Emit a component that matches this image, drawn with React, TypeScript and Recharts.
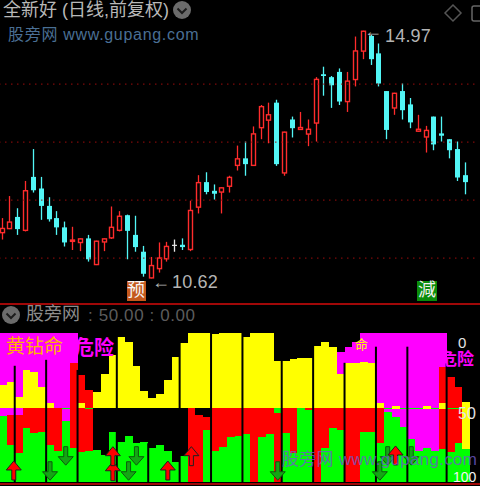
import { Bar, ComposedChart, Line, ReferenceLine, XAxis, YAxis } from "recharts";

// price panel, one entry per trading day
const highs = [11.69, 12.07, 11.86, 12.33, 12.88, 12.40, 12.05, 11.81, 11.63, 11.54, 11.34, 11.40, 11.30, 11.34, 11.89, 11.81, 11.75, 11.73, 11.21, 11.02, 11.27, 11.28, 11.32, 11.34, 11.99, 12.43, 12.48, 12.27, 12.22, 12.42, 12.94, 13.01, 13.27, 13.64, 13.68, 13.73, 13.18, 13.44, 13.52, 13.39, 14.12, 14.30, 14.14, 14.27, 14.21, 14.82, 14.92, 14.85, 14.70, 13.88, 13.85, 14.01, 13.76, 13.47, 13.28, 13.44, 13.44, 13.05, 13.01, 12.65];
const lows = [11.32, 11.50, 11.40, 11.46, 12.13, 11.66, 11.63, 11.40, 11.20, 11.14, 11.12, 10.94, 10.88, 11.12, 11.33, 11.46, 10.98, 11.11, 10.68, 10.65, 10.75, 10.94, 11.11, 11.14, 11.12, 11.77, 12.10, 12.01, 11.77, 12.13, 12.51, 12.42, 12.59, 13.05, 12.98, 12.59, 12.42, 13.08, 13.21, 12.93, 13.01, 13.80, 13.59, 13.64, 13.52, 13.96, 14.43, 14.33, 13.96, 13.05, 13.47, 13.39, 13.24, 13.18, 12.82, 12.86, 13.01, 12.72, 12.33, 12.10];
const bodyTops = [11.52, 11.63, 11.71, 12.17, 12.40, 12.20, 11.90, 11.69, 11.53, 11.32, 11.34, 11.34, 11.30, 11.34, 11.54, 11.73, 11.74, 11.40, 11.11, 10.88, 11.01, 11.21, 11.23, 11.23, 11.83, 12.31, 12.31, 12.16, 12.22, 12.40, 12.72, 12.72, 13.15, 13.62, 13.48, 13.68, 13.18, 13.39, 13.26, 13.23, 14.09, 14.17, 14.12, 14.21, 14.06, 14.58, 14.92, 14.83, 14.53, 13.88, 13.85, 13.88, 13.65, 13.23, 13.21, 13.44, 13.15, 13.05, 12.88, 12.43];
const bodyBottoms = [11.43, 11.50, 11.50, 11.47, 12.17, 11.90, 11.67, 11.53, 11.27, 11.28, 11.26, 10.98, 10.88, 11.27, 11.34, 11.47, 11.47, 11.19, 10.73, 10.65, 10.81, 10.98, 11.21, 11.19, 11.14, 11.87, 12.14, 12.11, 12.13, 12.23, 12.59, 12.62, 12.59, 13.24, 13.37, 12.62, 12.46, 13.24, 13.21, 13.13, 13.32, 14.14, 13.98, 13.70, 13.69, 14.07, 14.56, 14.43, 14.01, 13.21, 13.58, 13.55, 13.34, 13.18, 13.08, 12.96, 13.11, 12.86, 12.39, 12.31];
// r = up day, c = down day, w = flat day
const kinds = "rrcrcccccr" + "rcrrrrcccr" + "rrwcrrccrr" + "rcrrrcrcrr" + "rcccrrrccc" + "rccrrccccc";
const gridPrices = [14, 13, 12, 11];

// lower panel, 0 on top and 100 at the bottom, where each colour band ends
const gapTopEnd = [0, 0, 0, 0, 0, 0, 0, 0, 0, 0, 28.2, 38.3, 39.4, 27.7, 14.8, 2.5, 5.8, 21.9, 38.9, 43.4, 40.9, 31.5, 15.9, 6.5, 0, 0, 0, 0.4, 0, 0, 0, 2.9, 0, 0, 0, 18.8, 18.8, 17.7, 17, 17, 8.7, 5.8, 9.2, 12.5, 9.2, 5.8, 0, 0, 0, 0, 0, 0, 0, 0, 0, 0, 0, 29.8, 36.5, 46.1];
const magentaTopEnd = [34.9, 32.7, 43.2, 24.8, 26, 36, 46.8, 50, 50, 19.9, 28.2, 38.3, 39.4, 27.7, 14.8, 2.5, 5.8, 21.9, 38.9, 43.4, 40.9, 31.5, 15.9, 6.5, 0, 0, 0, 0.4, 0, 0, 0, 2.9, 0, 0, 0, 18.8, 18.8, 17.7, 17, 17, 8.7, 5.8, 9.2, 27.7, 20.4, 20.4, 19.2, 20.4, 47.2, 50, 49, 50, 50, 50, 49, 50, 22.6, 29.8, 36.5, 46.1];
const redTopEnd = [34.9, 32.7, 43.2, 24.8, 26, 36, 46.8, 50, 50, 50, 46.8, 50, 39.4, 27.7, 14.8, 2.5, 5.8, 21.9, 38.9, 43.4, 40.9, 31.5, 15.9, 6.5, 0, 0, 0, 0.4, 0, 0, 0, 2.9, 0, 0, 0, 18.8, 18.8, 17.7, 17, 17, 8.7, 5.8, 9.2, 27.7, 20.4, 20.4, 19.2, 20.4, 47.2, 50, 49, 50, 50, 50, 49, 50, 46.8, 50, 50, 46.1];
const yellowEnd = [50, 50, 50, 50, 50, 50, 50, 50, 50, 50, 50, 50, 50, 50, 50, 50, 50, 50, 50, 50, 50, 50, 50, 50, 50, 50, 50, 50, 50, 50, 50, 50, 50, 50, 50, 50, 50, 50, 50, 50, 50, 50, 50, 50, 50, 50, 50, 50, 50, 50, 50.8, 50, 50, 50, 50.8, 50, 50.8, 50, 50, 78.1];
const greenMidEnd = [50, 50, 50, 50, 50, 50, 50, 50, 50.8, 50, 50, 50.8, 50, 50, 50, 50, 50, 50, 50, 50, 50, 50, 50, 50, 50, 50, 50, 50, 50, 50, 50, 50, 50, 50, 50, 53.9, 50, 50, 50, 50, 50, 50, 50, 50, 50, 50, 50, 50, 50, 50.8, 50.8, 50.8, 50.8, 50.8, 50.8, 50.8, 50.8, 50.8, 50.8, 78.1];
const gapLowEnd = [50, 50, 50, 50, 50, 50, 50, 50, 50.8, 50, 50, 50.8, 78.5, 81.9, 66.2, 72.9, 69.1, 74, 73.4, 77, 75.2, 79.2, 86.4, 82.3, 50, 55, 56.2, 50, 50, 50, 50, 50, 50, 50, 50, 53.9, 50, 50, 50, 50, 50, 50, 50, 50, 50, 50, 50, 50, 50, 50.8, 50.8, 50.8, 50.8, 50.8, 50.8, 50.8, 50.8, 50.8, 50.8, 78.1];
const magentaLowEnd = [55.7, 55, 55, 50, 50, 50, 50, 50, 58.8, 50, 50, 50.8, 78.5, 81.9, 66.2, 72.9, 69.1, 74, 73.4, 77, 75.2, 79.2, 86.4, 82.3, 50, 55, 56.2, 50, 50, 50, 50, 50, 50, 50, 50, 53.9, 50, 50, 50, 50, 50, 50, 50, 50, 50, 50, 50, 50, 50, 52.8, 56.2, 62.9, 71.4, 79, 77.4, 79, 50.8, 50.8, 50.8, 78.1];
const redLowEnd = [55.7, 75.2, 80.8, 64, 67.3, 66.2, 75.2, 79.2, 58.8, 77.4, 79.6, 79.2, 78.5, 81.9, 66.2, 72.9, 69.1, 74, 73.4, 77, 75.2, 79.2, 86.4, 82.3, 100, 100, 65.1, 79.2, 76.3, 70, 69.1, 68, 100, 70, 68, 100, 67.3, 80.3, 50, 51.7, 100, 77, 64, 65.1, 100, 100, 66.2, 66.2, 74, 52.8, 56.2, 62.9, 71.4, 79, 77.4, 79, 78.1, 79.6, 74, 78.1];

const dividerCols = [2, 6, 10, 15, 19, 23, 27, 31, 36, 40, 44, 48, 52, 57];
const dividerTops = [22, 18, 24.8, 2.5, 74, 6.5, 0, 0, 18.8, 8.7, 20, 9.2, 9.2, 20.4];
const upArrowCols = [1, 14, 21, 24, 50];
const upArrowTops = [85.9, 86.4, 85.9, 76.3, 75.8];
const secondUpCols = [14];
const secondUpTops = [76.3];
const downArrowCols = [6, 8, 16, 17, 35, 48, 49, 52];
const downArrowTops = [86.4, 76.3, 86.4, 76.3, 86.4, 86.4, 76.3, 76.3];

const BANDS = 61; // one empty slot after the last day
const BAND_WIDTH = 479 / BANDS;
const RED = "#ff2c2c";
const CYAN = "#52f6f6";

const priceRows = Array.from({ length: BANDS }, (_, i) =>
  i < highs.length
    ? { i, range: [lows[i], highs[i]], top: bodyTops[i], bottom: bodyBottoms[i], kind: kinds[i] }
    : { i, range: null }
);

const pick = (cols: number[], vals: number[], i: number) => {
  const at = cols.indexOf(i);
  return at < 0 ? null : vals[at];
};

const lowerRows = Array.from({ length: BANDS }, (_, i) => {
  if (i >= gapTopEnd.length) {
    return { i, gapTop: 0, magentaTop: 0, redTop: 0, yellow: 0, greenMid: 0, gapLow: 0, magentaLow: 0, redLow: 0, green: 0, divider: null, up: null, up2: null, down: null };
  }
  return {
    i,
    gapTop: gapTopEnd[i],
    magentaTop: magentaTopEnd[i] - gapTopEnd[i],
    redTop: redTopEnd[i] - magentaTopEnd[i],
    yellow: yellowEnd[i] - redTopEnd[i],
    greenMid: greenMidEnd[i] - yellowEnd[i],
    gapLow: gapLowEnd[i] - greenMidEnd[i],
    magentaLow: magentaLowEnd[i] - gapLowEnd[i],
    redLow: redLowEnd[i] - magentaLowEnd[i],
    green: 100 - redLowEnd[i],
    divider: pick(dividerCols, dividerTops, i),
    up: pick(upArrowCols, upArrowTops, i),
    up2: pick(secondUpCols, secondUpTops, i),
    down: pick(downArrowCols, downArrowTops, i),
  };
});

function Candle(props: any) {
  const { x, y, width, height, payload } = props;
  if (!payload.range || !height) return <g />;
  const [low, high] = payload.range;
  const perPrice = height / (high - low);
  const cx = Math.round(x + width / 2) - 0.5;
  const top = y + (high - payload.top) * perPrice;
  const bottom = y + (high - payload.bottom) * perPrice;
  const color = payload.kind === "r" ? RED : payload.kind === "c" ? CYAN : "#e8e8e8";
  return (
    <g>
      <line x1={cx} x2={cx} y1={y} y2={y + height} stroke={color} strokeWidth={1.3} />
      {payload.kind === "r" ? (
        <rect x={cx - 2} y={top + 0.5} width={4} height={Math.max(bottom - top - 1, 1)} fill="#000" stroke={color} strokeWidth={1.4} />
      ) : (
        <rect x={cx - 2.5} y={top} width={5} height={Math.max(bottom - top, 1)} fill={color} />
      )}
    </g>
  );
}

// the lower axis is reversed, so the stacked rectangles come with a negative height;
// columns touch each other, whatever width the bar layout hands out
function Block(props: any) {
  const { x, y, width, height, tint } = props;
  if (!height) return <g />;
  const top = Math.min(y, y + height);
  const left = x + width / 2 - BAND_WIDTH / 2;
  return <rect x={left} y={top} width={BAND_WIDTH} height={Math.abs(height)} fill={tint} shapeRendering="crispEdges" />;
}

const PANEL_BOTTOM = 482;
const PANEL_TOP = 303;

function Divider(props: any) {
  const { cx, cy, key } = props;
  if (cy == null) return <g key={key} />;
  return <rect key={key} x={cx - 4.9} y={cy} width={2} height={PANEL_BOTTOM - PANEL_TOP - cy} fill="#000" />;
}

function UpArrow(props: any) {
  const { cx, cy, key, payload } = props;
  if (cy == null) return <g key={key} />;
  const mid = payload.i === 1 ? cx + 3 : cx;
  return (
    <path
      key={key}
      d={`M${mid} ${cy}l7.5 9h-5.5v10h-4v-10h-5.5z`}
      fill="#ff0000"
      stroke="#202020"
      strokeWidth={1}
    />
  );
}

function DownArrow(props: any) {
  const { cx, cy, key } = props;
  if (cy == null) return <g key={key} />;
  return (
    <path
      key={key}
      d={`M${cx - 2} ${cy}h4v10h5.5l-7.5 8.5l-7.5-8.5h5.5z`}
      fill="#14a614"
      stroke="#0c5a0c"
      strokeWidth={1}
    />
  );
}

function Label({ x, y, size, color, children, spacing, weight }: any) {
  return (
    <span
      style={{
        position: "absolute",
        left: x,
        top: y,
        fontSize: size,
        lineHeight: `${size + 2}px`,
        color,
        letterSpacing: spacing,
        fontWeight: weight,
        whiteSpace: "nowrap",
        fontFamily: "'Liberation Sans', 'Noto Sans CJK SC', sans-serif",
      }}
    >
      {children}
    </span>
  );
}

function Chevron({ cx, cy }: { cx: number; cy: number }) {
  return (
    <svg style={{ position: "absolute", left: cx - 10, top: cy - 10 }} width={20} height={20}>
      <circle cx={10} cy={10} r={9} fill="#6b6b6b" />
      <path d="M5.5 8.5l4.5 4.5l4.5-4.5" fill="none" stroke="#1c1c1c" strokeWidth={2} />
    </svg>
  );
}

const layers = [
  ["gapTop", "#000"],
  ["magentaTop", "#ff00ff"],
  ["redTop", "#ff0000"],
  ["yellow", "#ffff00"],
  ["greenMid", "#00ff00"],
  ["gapLow", "#000"],
  ["magentaLow", "#ff00ff"],
  ["redLow", "#ff0000"],
  ["green", "#00ff00"],
];

export default function App() {
  return (
    <div style={{ position: "absolute", left: 0, top: 0, width: 480, height: 486, background: "#000", overflow: "hidden" }}>
      <div style={{ position: "absolute", left: 0, top: 0 }}>
        <ComposedChart width={480} height={303} data={priceRows} margin={{ top: 0, right: 2, bottom: 0, left: -1 }}>
          <XAxis dataKey="i" hide />
          <YAxis hide domain={[10.226, 15.45]} allowDataOverflow />
          {gridPrices.map((p) => (
            <ReferenceLine key={p} y={p} stroke="#9c0c0c" strokeDasharray="1.5 4.5" />
          ))}
          <Bar dataKey="range" barSize={5} shape={<Candle />} isAnimationActive={false} />
        </ComposedChart>
      </div>
      <div style={{ position: "absolute", left: 0, top: PANEL_TOP }}>
        <ComposedChart
          width={480}
          height={183}
          data={lowerRows}
          margin={{ top: 30, right: 2, bottom: 4, left: -1 }}
          barCategoryGap="0%"
        >
          <XAxis dataKey="i" hide />
          <YAxis hide reversed domain={[0, 100]} allowDataOverflow />
          {layers.map(([key, tint]) => (
            <Bar key={key} dataKey={key} stackId="s" shape={<Block tint={tint} />} isAnimationActive={false} />
          ))}
          <Line dataKey="divider" stroke="none" dot={Divider} activeDot={false} isAnimationActive={false} />
          <Line dataKey="down" stroke="none" dot={DownArrow} activeDot={false} isAnimationActive={false} />
          <Line dataKey="up" stroke="none" dot={UpArrow} activeDot={false} isAnimationActive={false} />
          <Line dataKey="up2" stroke="none" dot={UpArrow} activeDot={false} isAnimationActive={false} />
        </ComposedChart>
      </div>

      <div style={{ position: "absolute", left: 0, top: 303, width: 480, height: 2, background: "#a00808" }} />
      <div style={{ position: "absolute", left: 0, top: 483, width: 480, height: 2, background: "#a00808" }} />

      <Label x={3} y={0} size={18} color="#b8b8b8">全新好 (日线,前复权)</Label>
      <Chevron cx={182} cy={10} />
      <Label x={8} y={26} size={16} color="#4a6f94" spacing={0.7}>股旁网 www.gupang.com</Label>
      <svg style={{ position: "absolute", left: 440, top: 2 }} width={40} height={22}>
        <path d="M13 3l8 8l-8 8l-8-8z" fill="none" stroke="#555" strokeWidth={1.5} />
        <rect x={32} y={4} width={14} height={15} rx={2} fill="none" stroke="#666" strokeWidth={1.5} />
      </svg>

      <Label x={364} y={21} size={18} color="#b4b4b4">←</Label>
      <Label x={385} y={26} size={18} color="#b4b4b4" spacing={0.2}>14.97</Label>
      <Label x={152} y={272} size={18} color="#b4b4b4">←</Label>
      <Label x={172} y={272} size={18} color="#b4b4b4" spacing={0.2}>10.62</Label>
      <div style={{ position: "absolute", left: 127, top: 281, width: 19, height: 20, background: "#c4581c" }} />
      <Label x={127} y={280} size={18} color="#f4f4f4">预</Label>
      <div style={{ position: "absolute", left: 417, top: 281, width: 20, height: 20, background: "#0a8c0a" }} />
      <Label x={418} y={280} size={18} color="#f0f0f0">減</Label>

      <Chevron cx={11} cy={315} />
      <Label x={26} y={304} size={18} color="#8c8c8c">股旁网</Label>
      <Label x={88} y={306} size={17} color="#5c5c5c" spacing={0.6}>: 50.00 : 0.00</Label>

      <Label x={6} y={336} size={19} color="#ffb400">黄钻命</Label>
      <Label x={74} y={337} size={20} color="#ff00ff" weight={700}>危险</Label>
      <Label x={440} y={350} size={17} color="#ff00ff" weight={700}>危险</Label>
      <Label x={355} y={337} size={13} color="#ffff00">命</Label>

      <Label x={458} y={334} size={15} color="#e4e4e4">0</Label>
      <Label x={458} y={405} size={16} color="#e4e4e4">50</Label>
      <Label x={453} y={469} size={14} color="#f4f4f4">100</Label>
      <Label x={282} y={450} size={17} color="rgba(110,90,200,0.8)" spacing={0.3}>股旁网 www.gupang.com</Label>
    </div>
  );
}
